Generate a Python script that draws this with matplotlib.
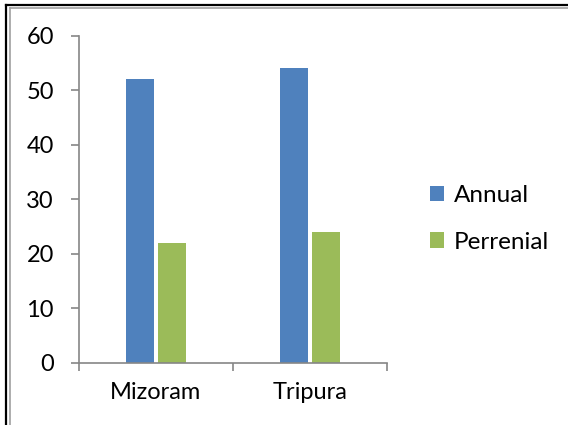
import matplotlib.pyplot as plt
from matplotlib.lines import Line2D
import numpy as np

plt.rcParams['font.family'] = ['Lato', 'DejaVu Sans']

estados = ['Mizoram', 'Tripura']
anual = [52, 54]
perenne = [22, 24]
series = ['Annual', 'Perrenial']
colores = ['#4F81BD', '#9BBB59']
gris = '#868686'

fig = plt.figure(figsize=(5.68, 4.25), dpi=100)
ax = fig.add_axes([0.139, 0.1466, 0.542, 0.7694])

x = np.arange(len(estados)) + 0.5
ancho = 0.18
sep = 0.013
ax.bar(x - ancho / 2 - sep, anual, ancho, color=colores[0], label=series[0])
ax.bar(x + ancho / 2 + sep, perenne, ancho, color=colores[1], label=series[1])

ax.set_xlim(0, len(estados))
ax.set_ylim(0, 60)
ax.set_yticks(range(0, 61, 10))
ax.set_xticks(range(len(estados) + 1))
ax.set_xticklabels([])
ax.set_xticks(x, minor=True)
ax.set_xticklabels(estados, minor=True)

for lado in ['top', 'right']:
    ax.spines[lado].set_visible(False)
for lado in ['left', 'bottom']:
    ax.spines[lado].set_color(gris)
    ax.spines[lado].set_linewidth(1.2)

ax.tick_params(axis='both', which='major', direction='out', length=6, width=1.2,
               color=gris, labelsize=17)
ax.tick_params(axis='y', pad=12)
ax.tick_params(axis='x', which='minor', length=0, pad=14, labelsize=17)

ax.legend(loc='center left', bbox_to_anchor=(1.14, 0.44), frameon=False,
          fontsize=17.5, handlelength=0.6, handleheight=0.6, handletextpad=0.4,
          labelspacing=1.05, borderaxespad=0, borderpad=0)

# bordes del recuadro
fig.add_artist(Line2D([5.5 / 568, 5.5 / 568], [0, 1 - 4.5 / 425], color='black', lw=1.6))
fig.add_artist(Line2D([5.5 / 568, 1], [1 - 4.5 / 425, 1 - 4.5 / 425], color='black', lw=1.6))
fig.add_artist(Line2D([9.5 / 568, 9.5 / 568], [0, 1 - 7.5 / 425], color='#A0A0A0', lw=1.2))
fig.add_artist(Line2D([9.5 / 568, 1], [1 - 7.5 / 425, 1 - 7.5 / 425], color='#A0A0A0', lw=1.2))

plt.savefig('out.png', dpi=100)
